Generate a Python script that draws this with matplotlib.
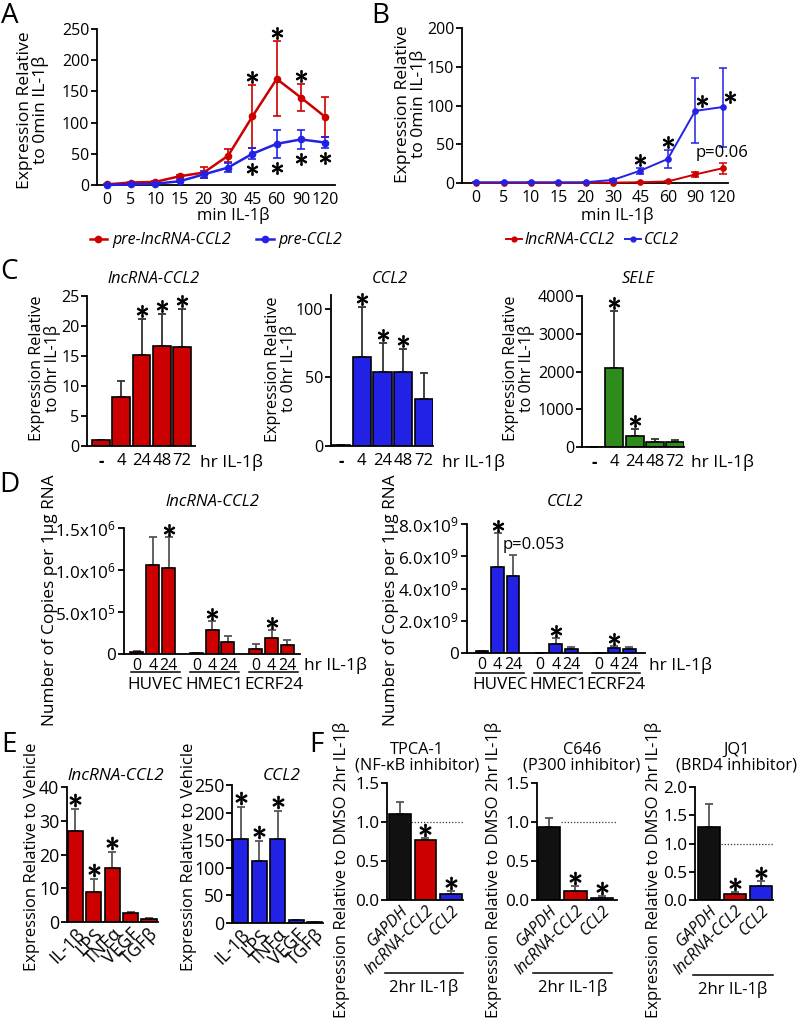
import numpy as np
import matplotlib
matplotlib.use('Agg')
import matplotlib.pyplot as plt
from matplotlib.transforms import offset_copy
from matplotlib.lines import Line2D

plt.rcParams['font.family'] = ['Open Sans', 'DejaVu Sans']
plt.rcParams['mathtext.fontset'] = 'custom'
plt.rcParams['mathtext.rm'] = 'Open Sans'
plt.rcParams['mathtext.it'] = 'Open Sans:italic'

W, H = 800, 1027
fig = plt.figure(figsize=(W / 100, H / 100), dpi=100)

# ---------------- data ----------------
time_min = ['0', '5', '10', '15', '20', '30', '45', '60', '90', '120']
a_pre_lnc = [1, 4, 5, 14, 20, 47, 110, 170, 140, 109]
a_pre_lnc_err = [1, 1, 1, 2, 9, 10, 50, 60, 22, 32]
a_pre_ccl2 = [0, 1, 2, 6, 17, 28, 50, 66, 73, 68]
a_pre_ccl2_err = [0.5, 0.5, 1, 1.5, 5, 7, 9, 22, 15, 9]
b_lnc = [0, 0, 0, 0, 0, 0.5, 1, 2, 11, 19]
b_lnc_err = [0, 0, 0, 0, 0, 0.3, 0.5, 1, 3, 7]
b_ccl2 = [1, 1, 1, 1, 1, 4, 16, 31, 93, 98]
b_ccl2_err = [0, 0, 0, 0, 0, 1, 4, 12, 42, 51]

hr_labels = ['-', '4', '24', '48', '72']
c_lnc = [1, 8.2, 15.1, 16.6, 16.5]
c_lnc_err = [0, 2.7, 6.0, 5.4, 6.3]
c_ccl2 = [1, 65, 54, 54, 34]
c_ccl2_err = [0, 36, 21, 17, 19]
c_sele = [1, 2100, 300, 140, 120]
c_sele_err = [0, 1500, 180, 80, 70]

cell_lines = ['HUVEC', 'HMEC1', 'ECRF24']
d_hr = ['0', '4', '24']
d_lnc = [0.02e6, 1.06e6, 1.02e6, 0.01e6, 0.28e6, 0.14e6, 0.06e6, 0.19e6, 0.11e6]
d_lnc_err = [0.01e6, 0.33e6, 0.37e6, 0.003e6, 0.11e6, 0.07e6, 0.06e6, 0.10e6, 0.06e6]
d_ccl2 = [0.1e9, 5.35e9, 4.75e9, 0.02e9, 0.55e9, 0.25e9, 0.02e9, 0.30e9, 0.25e9]
d_ccl2_err = [0.05e9, 2.1e9, 1.35e9, 0.0, 0.35e9, 0.15e9, 0.0, 0.15e9, 0.12e9]

stimuli = ['IL-1β', 'LPS', 'TNFα', 'VEGF', 'TGFβ']
e_lnc = [27, 9, 16, 2.6, 1]
e_lnc_err = [6.5, 3.7, 4.6, 0.3, 0.3]
e_ccl2 = [153, 113, 153, 5, 1]
e_ccl2_err = [58, 35, 50, 1, 0.5]

genes_f = ['GAPDH', 'lncRNA-CCL2', 'CCL2']
inhibitor_names = ['TPCA-1', 'C646', 'JQ1']
inhibitor_targets = ['(NF-κB inhibitor)', '(P300 inhibitor)', '(BRD4 inhibitor)']
f_vals = [[1.10, 0.77, 0.08], [0.94, 0.12, 0.03], [1.30, 0.11, 0.24]]
f_errs = [[0.16, 0.02, 0.04], [0.11, 0.06, 0.02], [0.40, 0.03, 0.10]]

# ---------------- styling ----------------
RED = '#cc0000'
BLUE = '#2222e6'
GREEN = '#2f8c1c'
DARK = '#111111'
EC = '#333333'


def ax_px(l, t, r, b):
    return fig.add_axes([l / W, 1 - b / H, (r - l) / W, (b - t) / H])


def ftext(x, y, s, **kw):
    return fig.text(x / W, 1 - y / H, s, **kw)


def fline(x0, x1, y, lw=1.1):
    fig.add_artist(Line2D([x0 / W, x1 / W], [1 - y / H, 1 - y / H],
                          transform=fig.transFigure, color='black', lw=lw))


def style(ax, yfs, xfs=None, xpad=4):
    for s in ('top', 'right'):
        ax.spines[s].set_visible(False)
    for s in ('left', 'bottom'):
        ax.spines[s].set_linewidth(1.3)
    ax.tick_params(axis='y', direction='out', length=4, width=1.3, pad=1.5, labelsize=yfs)
    ax.tick_params(axis='x', length=0, pad=xpad, labelsize=xfs or yfs)


def star(ax, x, y, dx=0, dy=8, ms=8.5):
    tr = offset_copy(ax.transData, fig=fig, x=dx, y=dy, units='dots')
    ax.plot([x], [y], linestyle='none', marker='$\\ast$', ms=ms, color='black',
            mew=0.8, transform=tr, clip_on=False, zorder=6)


def bars(ax, x, vals, errs, color, width=0.82, ecolor=EC):
    ax.errorbar(x, vals, yerr=[np.zeros(len(vals)), errs], fmt='none', ecolor=ecolor,
                elinewidth=1.3, capsize=3.2, capthick=1.3, zorder=1)
    ax.bar(x, vals, width=width, color=color, edgecolor='black', linewidth=1.2, zorder=2)


# ---------------- Panel A ----------------
axA = ax_px(97, 29, 335, 185)
xA = np.arange(len(time_min))
for vals, errs, col in ((a_pre_lnc, a_pre_lnc_err, RED), (a_pre_ccl2, a_pre_ccl2_err, BLUE)):
    axA.errorbar(xA, vals, yerr=errs, color=col, lw=1.8, marker='o', ms=4.5, capsize=3,
                 elinewidth=1.2, capthick=1.2, zorder=3, clip_on=False)
axA.set_xlim(-0.4, 9.4)
axA.set_ylim(0, 250)
axA.set_xticks(xA)
axA.set_xticklabels(time_min)
axA.set_yticks([0, 50, 100, 150, 200, 250])
style(axA, 11.5, xpad=5)
for i in (6, 7, 8):
    star(axA, i, a_pre_lnc[i] + a_pre_lnc_err[i], dy=8)
for i in (6, 7, 8, 9):
    star(axA, i, a_pre_ccl2[i] - a_pre_ccl2_err[i], dy=-10)
hA = [Line2D([], [], color=RED, lw=1.8, marker='o', ms=4.5),
      Line2D([], [], color=BLUE, lw=1.8, marker='o', ms=4.5)]
axA.legend(hA, ['pre-lncRNA-CCL2', 'pre-CCL2'], loc='center', bbox_to_anchor=(0.5, -0.355),
           ncol=2, frameon=False, prop={'style': 'italic', 'size': 11.5}, handlelength=1.1,
           handletextpad=0.3, columnspacing=1.6, borderaxespad=0, borderpad=0)
ftext(233, 216, 'min IL-1β', ha='center', va='center', fontsize=12)
ftext(33, 110, 'Expression Relative\nto 0min IL-1β', rotation=90, ha='center', va='center',
      fontsize=12.6, linespacing=0.92)

# ---------------- Panel B ----------------
axB = ax_px(462, 28, 728, 183)
for vals, errs, col in ((b_lnc, b_lnc_err, RED), (b_ccl2, b_ccl2_err, BLUE)):
    axB.errorbar(xA, vals, yerr=errs, color=col, lw=1.4, marker='o', ms=3.8, capsize=3,
                 elinewidth=1.1, capthick=1.1, zorder=3, clip_on=False)
axB.set_xlim(-0.52, 9.2)
axB.set_ylim(0, 200)
axB.set_xticks(xA)
axB.set_xticklabels(time_min)
axB.set_yticks([0, 50, 100, 150, 200])
style(axB, 11.5, xpad=5)
for i in (6, 7):
    star(axB, i, b_ccl2[i] + b_ccl2_err[i], dy=8)
for i in (8, 9):
    star(axB, i, b_ccl2[i], dx=7, dy=10)
axB.annotate('p=0.06', xy=(9, b_lnc[9] + b_lnc_err[9]), xytext=(0, 2), textcoords='offset pixels',
             ha='center', va='bottom', fontsize=12)
hB = [Line2D([], [], color=RED, lw=1.4, marker='o', ms=3.5),
      Line2D([], [], color=BLUE, lw=1.4, marker='o', ms=3.5)]
axB.legend(hB, ['lncRNA-CCL2', 'CCL2'], loc='center', bbox_to_anchor=(0.49, -0.37),
           ncol=2, frameon=False, prop={'style': 'italic', 'size': 11.5}, handlelength=1.0,
           handletextpad=0.2, columnspacing=0.6, borderaxespad=0, borderpad=0)
ftext(617, 216, 'min IL-1β', ha='center', va='center', fontsize=12)
ftext(411, 104, 'Expression Relative\nto 0min IL-1β', rotation=90, ha='center', va='center',
      fontsize=12.6, linespacing=0.92)

# ---------------- Panel C ----------------
xC = np.arange(len(hr_labels))
c_specs = [
    ((87, 296, 195, 446), c_lnc, c_lnc_err, RED, (0, 25), [0, 5, 10, 15, 20, 25], (-0.69, 4.64),
     (2, 3, 4), 'lncRNA-CCL2', 154, 45, 368, 200),
    ((331, 295, 433, 446), c_ccl2, c_ccl2_err, BLUE, (0, 110), [0, 50, 100], (-0.48, 4.43),
     (1, 2, 3), 'CCL2', 390, 281, 369, 442),
    ((582, 296, 684, 447), c_sele, c_sele_err, GREEN, (0, 4000), [0, 1000, 2000, 3000, 4000],
     (-0.6, 4.44), (1, 2), 'SELE', 638, 519, 368, 691),
]
for box, vals, errs, col, ylim, yt, xlim, stars_i, title, tx, lx, ly, hx in c_specs:
    ax = ax_px(*box)
    bars(ax, xC, vals, errs, col, width=0.88)
    ax.set_xlim(*xlim)
    ax.set_ylim(*ylim)
    ax.set_yticks(yt)
    ax.set_xticks(xC)
    ax.set_xticklabels(hr_labels)
    style(ax, 11.6, xfs=12, xpad=5)
    ax.get_xticklabels()[0].set_fontweight('bold')
    for i in stars_i:
        star(ax, i, vals[i] + errs[i], dy=8)
    ftext(tx, 279, title, ha='center', va='center', fontsize=11.8, style='italic')
    ftext(lx, ly, 'Expression Relative\nto 0hr IL-1β', rotation=90, ha='center', va='center',
          fontsize=11.6, linespacing=0.88)
    ftext(hx, 462, 'hr IL-1β', ha='left', va='center', fontsize=12.5)

# ---------------- Panel D ----------------
xD = np.array([g * 3.75 + i for g in range(3) for i in range(3)])
d_specs = [
    ((124, 528, 300, 654), d_lnc, d_lnc_err, (0, 1.5e6), [0, 0.5e6, 1.0e6, 1.5e6],
     ['0', '5.0x10$^{5}$', '1.0x10$^{6}$', '1.5x10$^{6}$'], (-0.82, 10.3), (2, 4, 7),
     'lncRNA-CCL2', 212, 50, 304, 672, 685),
    ((467, 524, 645, 653), d_ccl2, d_ccl2_err, (0, 8e9), [0, 2e9, 4e9, 6e9, 8e9],
     ['0', '2.0x10$^{9}$', '4.0x10$^{9}$', '6.0x10$^{9}$', '8.0x10$^{9}$'], (-0.97, 10.5), (1, 4, 7),
     'CCL2', 565, 391, 649, 673, 685),
]
for (box, vals, errs, ylim, yt, ytl, xlim, stars_i, title, tx, lx, hx, uly, gy) in d_specs:
    ax = ax_px(*box)
    col = RED if title.startswith('lnc') else BLUE
    bars(ax, xD, vals, errs, col, width=0.82, ecolor='#555555')
    ax.set_xlim(*xlim)
    ax.set_ylim(*ylim)
    ax.set_yticks(yt)
    ax.set_yticklabels(ytl)
    ax.set_xticks(xD)
    ax.set_xticklabels(d_hr * 3)
    style(ax, 12.3, xfs=11.5, xpad=3)
    for i in stars_i:
        star(ax, xD[i], vals[i] + errs[i], dy=7)
    ftext(tx, 502, title, ha='center', va='center', fontsize=12, style='italic')
    ftext(lx, 600, 'Number of Copies per 1μg RNA', rotation=90, ha='center', va='center',
          fontsize=12.4)
    ftext(hx, 665, 'hr IL-1β', ha='left', va='center', fontsize=12.5)
    for g, name in enumerate(cell_lines):
        x0 = ax.transData.transform((xD[3 * g] - 0.4, 0))[0]
        x1 = ax.transData.transform((xD[3 * g + 2] + 0.7, 0))[0]
        fline(x0, x1, uly)
        ftext((x0 + x1) / 2, gy, name, ha='center', va='center', fontsize=12.3)
    if not title.startswith('lnc'):
        ax.annotate('p=0.053', xy=(xD[2], vals[2] + errs[2]), xytext=(21, 2),
                    textcoords='offset pixels', ha='center', va='bottom', fontsize=12)

# ---------------- Panel E ----------------
xE = np.arange(len(stimuli))
e_specs = [
    ((67, 787, 158, 922), e_lnc, e_lnc_err, RED, (0, 40), [0, 10, 20, 30, 40], (-0.46, 4.49),
     'lncRNA-CCL2', 116, 32),
    ((232, 785, 323, 923), e_ccl2, e_ccl2_err, BLUE, (0, 250), [0, 50, 100, 150, 200, 250],
     (-0.48, 4.45), 'CCL2', 282, 189),
]
for box, vals, errs, col, ylim, yt, xlim, title, tx, lx in e_specs:
    ax = ax_px(*box)
    bars(ax, xE, vals, errs, col, width=0.82, ecolor='#555555')
    ax.set_xlim(*xlim)
    ax.set_ylim(*ylim)
    ax.set_yticks(yt)
    ax.set_xticks(xE)
    ax.set_xticklabels(stimuli, rotation=45, ha='right', rotation_mode='anchor')
    style(ax, 12.8, xfs=12.8, xpad=2)
    for i in (0, 1, 2):
        star(ax, i, vals[i] + errs[i], dy=9, ms=9)
    ftext(tx, 776, title, ha='center', va='center', fontsize=12.3, style='italic')
    ftext(lx, 857, 'Expression Relative to Vehicle', rotation=90, ha='center', va='center',
          fontsize=12)

# ---------------- Panel F ----------------
xF = np.arange(len(genes_f))
f_specs = [
    ((387, 783, 463, 900), (0, 1.5), [0, 0.5, 1.0, 1.5], (-0.5, 2.47), 417, 342, (385, 463), 973),
    ((537, 783, 617, 900), (0, 1.5), [0, 0.5, 1.0, 1.5], (-0.45, 2.57), 582, 493, (533, 612), 973),
    ((695, 787, 773, 900), (0, 2.0), [0, 0.5, 1.0, 1.5, 2.0], (-0.54, 2.46), 737, 653, (693, 773), 975),
]
for k, (box, ylim, yt, xlim, tx, lx, ul, uly) in enumerate(f_specs):
    ax = ax_px(*box)
    bars(ax, xF, f_vals[k], f_errs[k], [DARK, RED, BLUE], width=0.85, ecolor='#555555')
    ax.plot([0.45, xlim[1]], [1.0, 1.0], ls=(0, (1, 1.5)), color='#333333', lw=0.9, zorder=0)
    ax.set_xlim(*xlim)
    ax.set_ylim(*ylim)
    ax.set_yticks(yt)
    ax.set_yticklabels(['%.1f' % v for v in yt])
    ax.set_xticks(xF)
    ax.set_xticklabels(genes_f, rotation=45, ha='right', rotation_mode='anchor', style='italic')
    style(ax, 12.3, xfs=11.5, xpad=2)
    for i in (1, 2):
        star(ax, i, f_vals[k][i] + f_errs[k][i], dy=8, ms=9)
    ftext(tx, 750, inhibitor_names[k], ha='center', va='center', fontsize=11.8)
    ftext(tx, 765, inhibitor_targets[k], ha='center', va='center', fontsize=11.8)
    ftext(lx, 870, 'Expression Relative to DMSO 2hr IL-1β', rotation=90, ha='center',
          va='center', fontsize=12)
    fline(ul[0], ul[1], uly)
    ftext((ul[0] + ul[1]) / 2, uly + 14, '2hr IL-1β', ha='center', va='center', fontsize=12)

# ---------------- panel letters ----------------
for letter, x, y in (('A', 10, 16), ('B', 380, 16), ('C', 9, 272), ('D', 9, 485),
                     ('E', 9, 745), ('F', 316, 745)):
    ftext(x, y, letter, ha='center', va='center', fontsize=20)

fig.savefig('out.png', dpi=100)
